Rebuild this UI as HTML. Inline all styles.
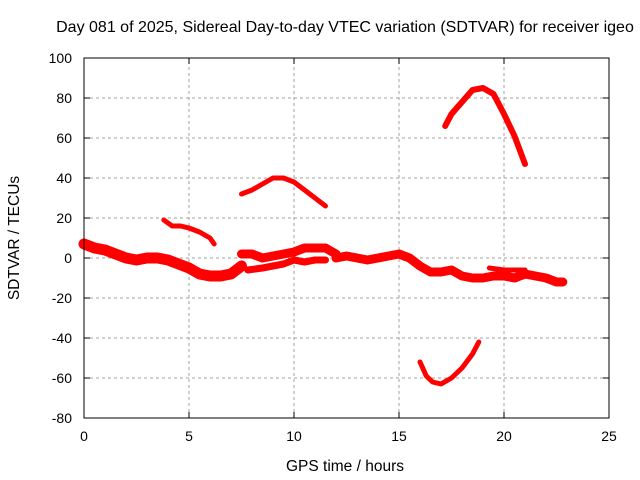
<!DOCTYPE html>
<html><head><meta charset="utf-8"><style>
body{margin:0;background:#fff;}
svg{display:block;font-family:"Liberation Sans",sans-serif;}
</style></head><body>
<svg id="chart" width="640" height="480" viewBox="0 0 640 480">
<rect width="640" height="480" fill="#fff"/>
<text x="345" y="32" font-size="16" text-anchor="middle">Day 081 of 2025, Sidereal Day-to-day VTEC variation (SDTVAR) for receiver igeo</text>
<g id="grid"></g><g id="series"></g><g id="axes"></g>
<text x="345" y="471" font-size="15.5" text-anchor="middle">GPS time / hours</text>
<text transform="translate(19,238) rotate(-90)" font-size="15.5" text-anchor="middle">SDTVAR / TECUs</text>
</svg>
<script>
const xTicks=[0,5,10,15,20,25];
const yTicks=[100,80,60,40,20,0,-20,-40,-60,-80];
const bandAHours=[0,0.5,1,1.5,2,2.5,3,3.5,4,4.5,5,5.5,6,6.5,7,7.5];
const bandAValues=[7,5,4,2,0,-1,0,0,-1,-3,-5,-8,-9,-9,-8,-4];
const bandBHours=[7.5,8,8.5,9,9.5,10,10.5,11,11.5,12];
const bandBValues=[2,2,0,1,2,3,5,5,5,2];
const bandCHours=[7.8,8.5,9,9.5,10,10.5,11,11.5];
const bandCValues=[-6,-5,-4,-3,-1,-2,-1,-1];
const bandDHours=[12,12.5,13,13.5,14,14.5,15,15.5,16,16.5,17,17.5,18,18.5,19,19.5,20,20.5,21,21.5,22,22.5,22.8];
const bandDValues=[0,1,0,-1,0,1,2,0,-4,-7,-7,-6,-9,-10,-10,-9,-9,-10,-8,-9,-10,-12,-12];
const bandD2Hours=[19.3,20,20.5,21];
const bandD2Values=[-5,-6,-6,-6];
const arcEHours=[3.8,4.2,4.6,5,5.5,6,6.2];
const arcEValues=[19,16,16,15,13,10,7];
const arcFHours=[7.5,8,8.5,9,9.5,10,10.5,11,11.5];
const arcFValues=[32,34,37,40,40,38,34,30,26];
const arcGHours=[17.2,17.5,18,18.5,19,19.5,20,20.5,21];
const arcGValues=[66,72,78,84,85,82,72,61,47];
const arcHHours=[16,16.3,16.6,17,17.5,18,18.5,18.8];
const arcHValues=[-52,-59,-62,-63,-60,-55,-48,-42];

const X0=84,X1=609,Y0=418,Y1=58;
const xs=h=>X0+(h-0)/25*(X1-X0);
const ys=v=>Y0-(v+80)/180*(Y0-Y1);
const NS="http://www.w3.org/2000/svg";
function mk(tag,attrs,parent){const e=document.createElementNS(NS,tag);for(const k in attrs)e.setAttribute(k,attrs[k]);parent.appendChild(e);return e;}
const grid=document.getElementById('grid'),axes=document.getElementById('axes'),ser=document.getElementById('series');
xTicks.forEach(t=>{const x=xs(t);
 if(t>0&&t<25){const l=mk('line',{x1:x,x2:x,y1:Y0,y2:Y1,stroke:'#a0a0a0','stroke-dasharray':'3,3'},grid);}
 const tx=mk('text',{x:x,y:Y0+23,'font-size':14,'text-anchor':'middle'},axes);tx.textContent=t;
 
 mk('line',{x1:x,x2:x,y1:Y0,y2:Y0-6,stroke:'#000'},axes);mk('line',{x1:x,x2:x,y1:Y1,y2:Y1+6,stroke:'#000'},axes);});
yTicks.forEach(t=>{const y=ys(t);
 if(t>-80&&t<100){const l=mk('line',{x1:X0,x2:X1,y1:y,y2:y,stroke:'#a0a0a0','stroke-dasharray':'3,3'},grid);}
 const tx=mk('text',{x:X0-12,y:y+5,'font-size':14,'text-anchor':'end'},axes);tx.textContent=t;
 
 mk('line',{x1:X0,x2:X0+6,y1:y,y2:y,stroke:'#000'},axes);mk('line',{x1:X1,x2:X1-6,y1:y,y2:y,stroke:'#000'},axes);});
const frame=mk('rect',{x:X0,y:Y1,width:X1-X0,height:Y0-Y1,fill:'none',stroke:'#000'},axes);

function draw(hs,vs,w,name){const pts=hs.map((h,i)=>xs(h).toFixed(1)+','+ys(vs[i]).toFixed(1)).join(' ');
 const p=mk('polyline',{points:pts,fill:'none',stroke:'#ff0000','stroke-width':w,'stroke-linejoin':'round','stroke-linecap':'round'},ser);
 }
draw(bandAHours,bandAValues,11,'series-band-a');
draw(bandBHours,bandBValues,9,'series-band-b');
draw(bandCHours,bandCValues,7,'series-band-c');
draw(bandDHours,bandDValues,9,'series-band-d');
draw(bandD2Hours,bandD2Values,5,'series-band-d2');
draw(arcEHours,arcEValues,5,'series-arc-e');
draw(arcFHours,arcFValues,5,'series-arc-f');
draw(arcGHours,arcGValues,6,'series-arc-g');
draw(arcHHours,arcHValues,5,'series-arc-h');
</script>
</body></html>
